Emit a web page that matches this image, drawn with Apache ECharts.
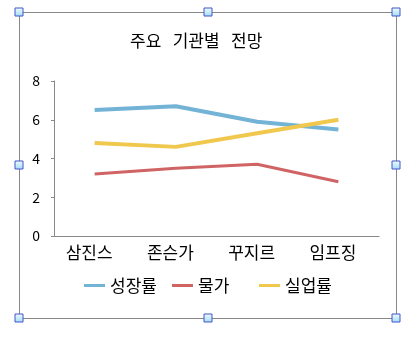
<!DOCTYPE html>
<html>
<head>
<meta charset="utf-8">
<script src="https://cdn.jsdelivr.net/npm/echarts@6/dist/echarts.min.js"></script>
<style>
  html, body { margin: 0; padding: 0; background: #fff; }
  #chart { width: 417px; height: 337px; }
</style>
</head>
<body>
<div id="chart"></div>
<script>
// Forecast by institution
const categories = ['삼진스', '존슨가', '꾸지르', '임프징'];
const growth = [6.5, 6.7, 5.9, 5.5];       // 성장률
const prices = [3.2, 3.5, 3.7, 2.8];       // 물가
const unemployment = [4.8, 4.6, 5.3, 6.0]; // 실업률
const yTicks = [0, 2, 4, 6, 8];
const seriesNames = ['성장률', '물가', '실업률'];

const FONT = '"Noto Sans CJK KR", "Noto Sans", sans-serif';
const COLORS = ['#72b3d6', '#d06464', '#f0c84e'];

// selection frame with its eight handles
const frame = { x0: 19, y0: 12, x1: 396, y1: 318 };
const handleFill = new echarts.graphic.LinearGradient(0, 0, 0, 1, [
  { offset: 0, color: '#f4fcff' },
  { offset: 1, color: '#9fdcf6' }
]);
const hx = [frame.x0, (frame.x0 + frame.x1) / 2, frame.x1];
const hy = [frame.y0, (frame.y0 + frame.y1) / 2, frame.y1];
const handles = [];
hy.forEach((y, j) => hx.forEach((x, i) => {
  if (i === 1 && j === 1) return;
  handles.push({
    type: 'rect', z: 100,
    shape: { x: Math.round(x) - 4, y: Math.round(y) - 4, width: 8, height: 8 },
    style: { fill: handleFill, stroke: '#4455cc', lineWidth: 1 }
  });
}));

// one legend block per series so each entry sits in its own slot
const legendLeft = [79, 167, 254];
const legends = seriesNames.map((name, i) => ({
  left: legendLeft[i], bottom: 38,
  itemWidth: 21, itemHeight: 3, itemGap: 0,
  icon: 'rect',
  textStyle: { fontFamily: FONT, fontSize: 17, color: '#000' },
  data: [name]
}));

const chart = echarts.init(document.getElementById('chart'), null, { renderer: 'canvas' });
chart.setOption({
  animation: false,
  backgroundColor: '#fff',
  title: {
    text: '주요   기관별   전망',
    left: 125, top: 27,
    textStyle: { fontFamily: FONT, fontSize: 17, fontWeight: 'normal', color: '#000' }
  },
  legend: legends,
  grid: { left: 54, right: 38, top: 81, bottom: 101 },
  xAxis: {
    type: 'category',
    data: categories,
    boundaryGap: true,
    axisLine: { lineStyle: { color: '#888', width: 1 } },
    axisTick: { show: false },
    axisLabel: { fontFamily: FONT, fontSize: 17, color: '#000', margin: 8, padding: [0, 11, 0, 0] }
  },
  yAxis: {
    type: 'value',
    min: yTicks[0], max: yTicks[yTicks.length - 1], interval: 2,
    splitLine: { show: false },
    axisLine: { show: true, lineStyle: { color: '#888', width: 1 } },
    axisTick: { show: true, length: 3, lineStyle: { color: '#888' } },
    axisLabel: { fontFamily: FONT, fontSize: 14, color: '#000', margin: 14, padding: [5, 0, 0, 0] }
  },
  series: [
    { name: seriesNames[0], type: 'line', data: growth, symbol: 'none',
      color: COLORS[0], lineStyle: { width: 4, color: COLORS[0] } },
    { name: seriesNames[1], type: 'line', data: prices, symbol: 'none',
      color: COLORS[1], lineStyle: { width: 3, color: COLORS[1] } },
    { name: seriesNames[2], type: 'line', data: unemployment, symbol: 'none',
      color: COLORS[2], lineStyle: { width: 4, color: COLORS[2] } }
  ],
  graphic: [
    {
      type: 'rect', z: 99,
      shape: { x: frame.x0 + 0.5, y: frame.y0 + 0.5, width: frame.x1 - frame.x0, height: frame.y1 - frame.y0 },
      style: { fill: 'none', stroke: '#888', lineWidth: 1 }
    }
  ].concat(handles)
});
</script>
</body>
</html>
